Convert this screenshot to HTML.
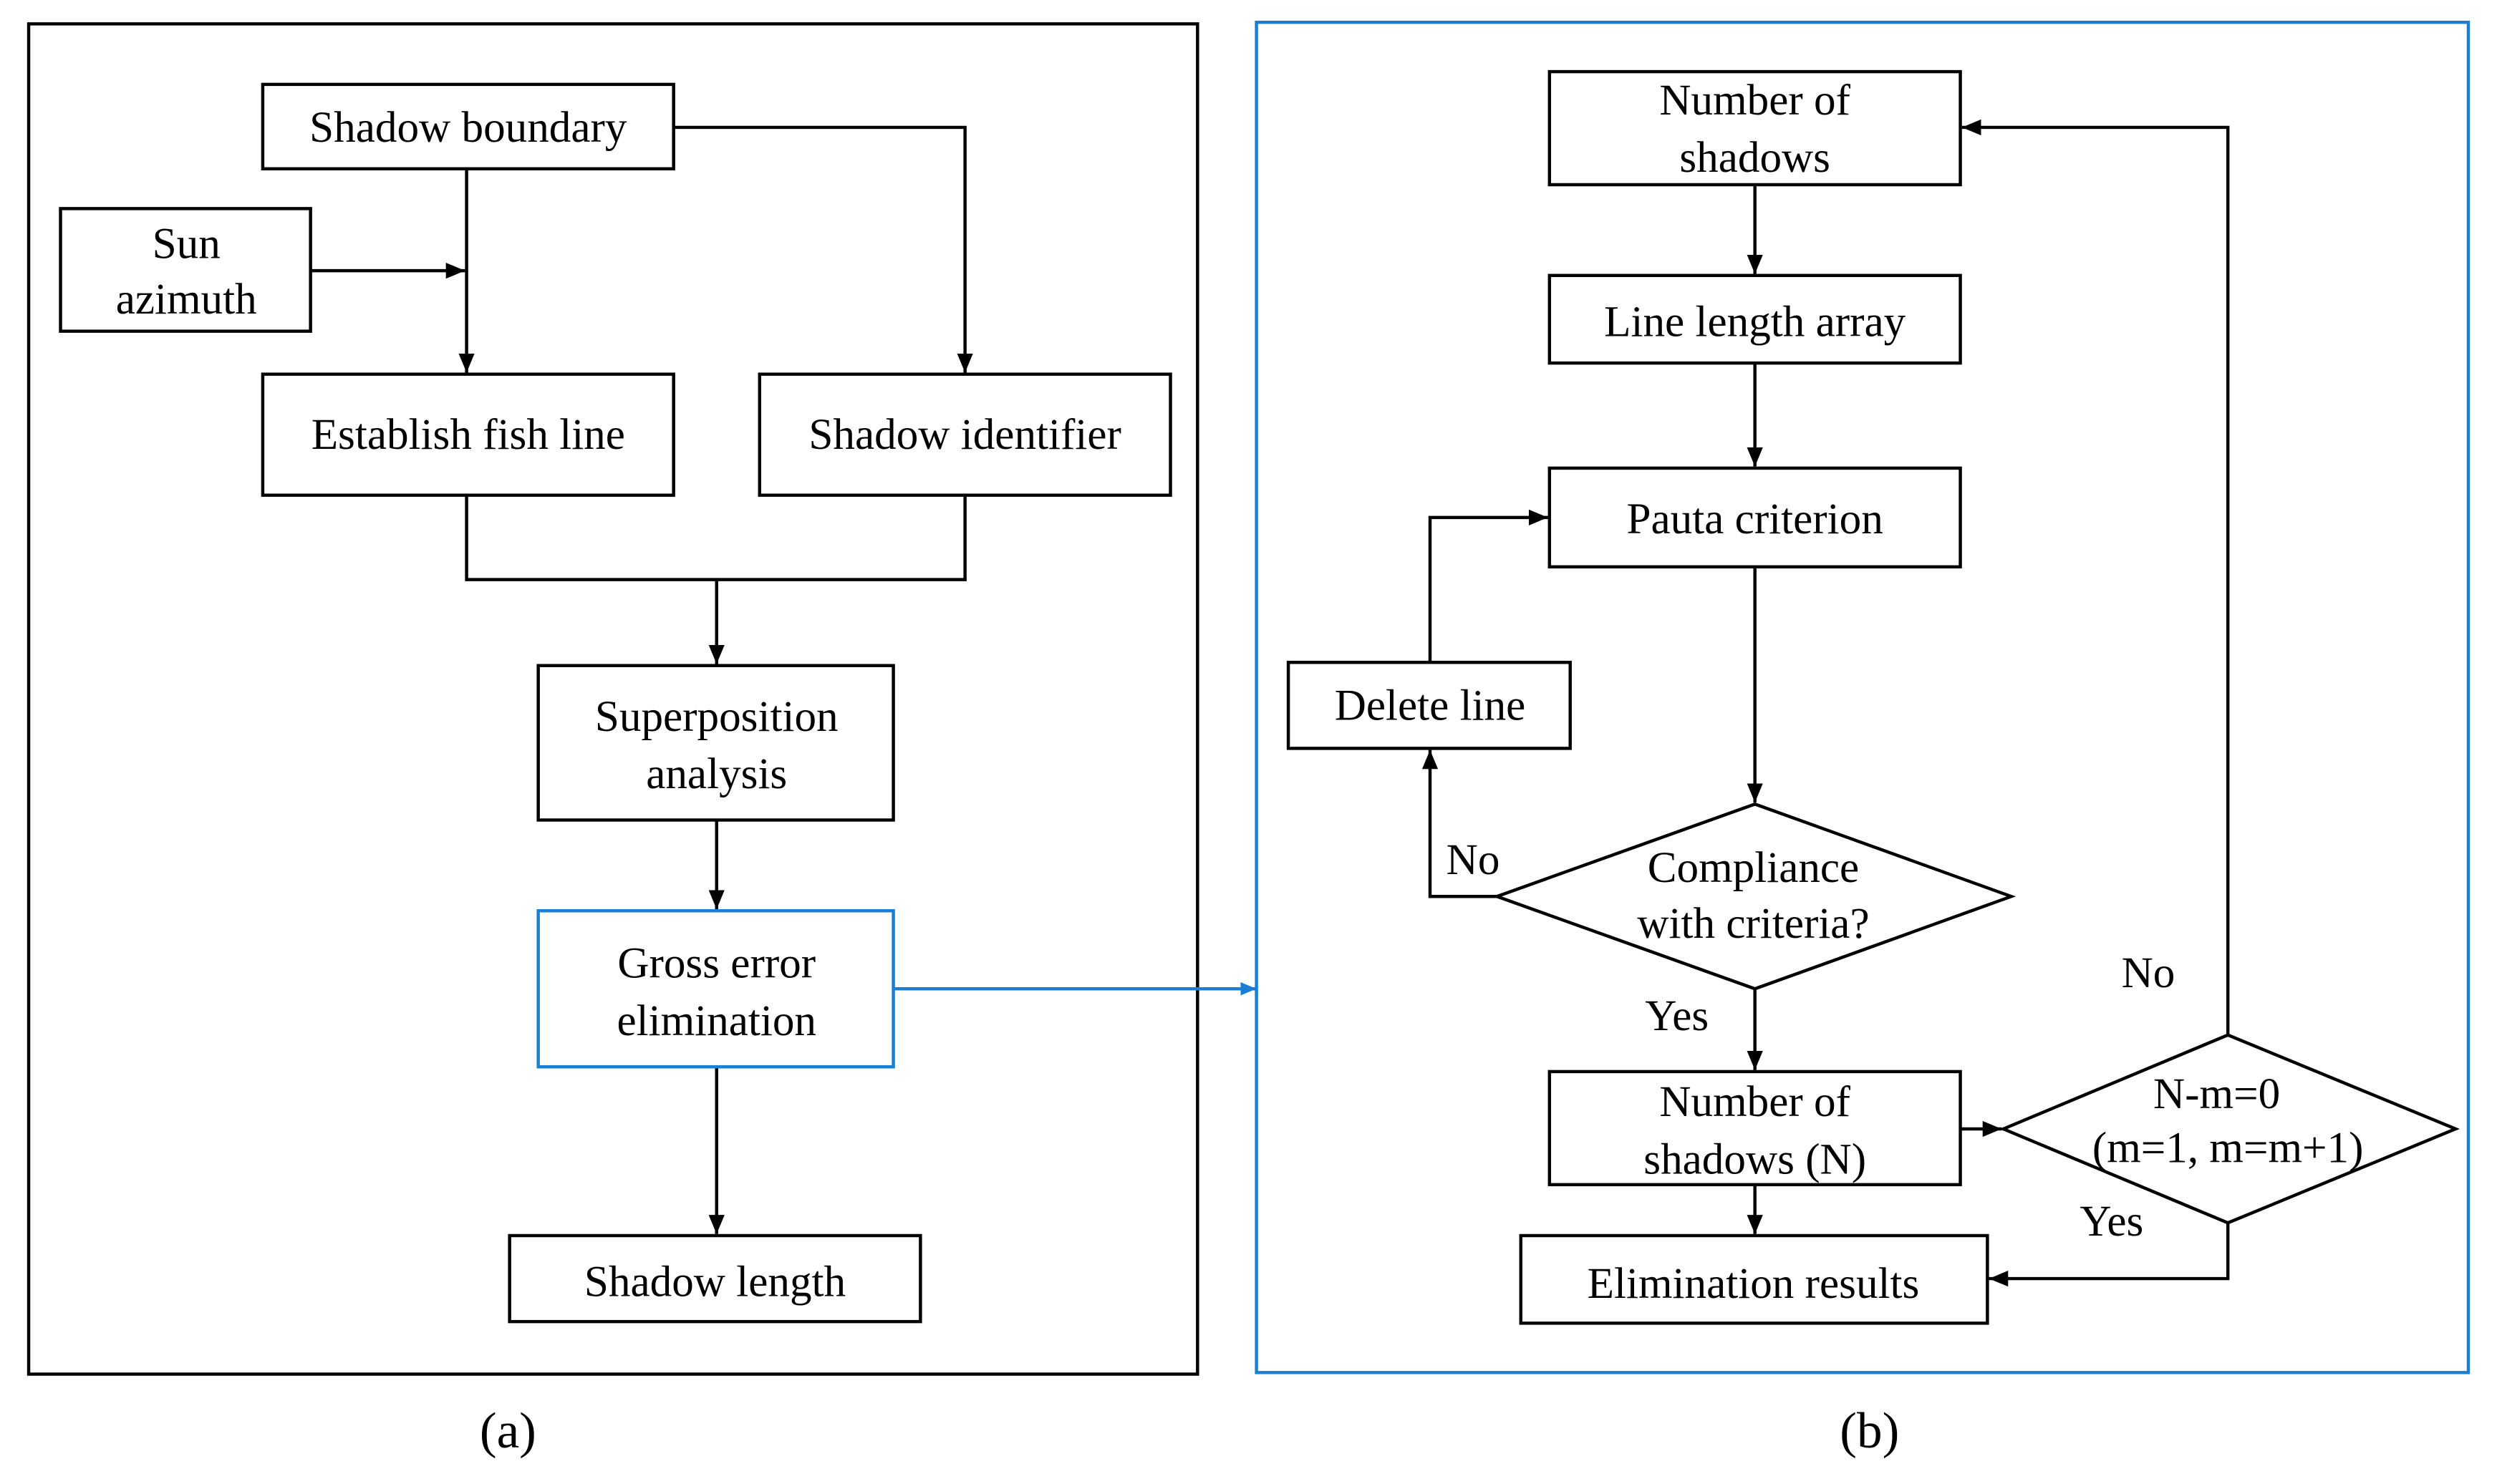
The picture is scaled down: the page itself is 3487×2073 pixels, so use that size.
<!DOCTYPE html>
<html><head><meta charset="utf-8"><style>
html,body{margin:0;padding:0;background:#fff;}
svg{display:block;}
text{font-family:"Liberation Serif","Times New Roman","DejaVu Serif",serif;font-size:27.5px;fill:#000;text-anchor:middle;}
</style></head><body>
<svg width="3487" height="2073" viewBox="0 0 1568 932" preserveAspectRatio="none" xmlns="http://www.w3.org/2000/svg" font-family="Liberation Serif, Times New Roman, serif">
<defs>
<marker id="a" viewBox="0 0 12 10" refX="12" refY="5" markerWidth="12" markerHeight="10" markerUnits="userSpaceOnUse" orient="auto"><path d="M0,0L12,5L0,10z" fill="#000"/></marker>
<marker id="ab" viewBox="0 0 12 10" refX="12" refY="5" markerWidth="10" markerHeight="9" markerUnits="userSpaceOnUse" orient="auto"><path d="M0,0L12,5L0,10z" fill="#1a7fd4"/></marker>
</defs>
<g fill="none" stroke="#000" stroke-width="2">
<rect x="18" y="15" width="734" height="848"/>
<rect x="165" y="53" width="258" height="53"/>
<rect x="38" y="131" width="157" height="77"/>
<rect x="165" y="235" width="258" height="76"/>
<rect x="477" y="235" width="258" height="76"/>
<rect x="338" y="418" width="223" height="97"/>
<rect x="320" y="776" width="258" height="54"/>
<rect x="973" y="45" width="258" height="71"/>
<rect x="973" y="173" width="258" height="55"/>
<rect x="973" y="294" width="258" height="62"/>
<rect x="809" y="416" width="177" height="54"/>
<rect x="973" y="673" width="258" height="71"/>
<rect x="955" y="776" width="293" height="55"/>
<path d="M1102,505L1263,563L1102,621L940,563Z"/>
<path d="M1258,709L1399,650L1542,709L1399,768Z"/>
<path d="M293,106V234" marker-end="url(#a)"/>
<path d="M195,170H292" marker-end="url(#a)"/>
<path d="M423,80H606V234" marker-end="url(#a)"/>
<path d="M293,311V364H606V311"/>
<path d="M450,364V417" marker-end="url(#a)"/>
<path d="M450,515V571" marker-end="url(#a)"/>
<path d="M450,670V775" marker-end="url(#a)"/>
<path d="M1102,116V172" marker-end="url(#a)"/>
<path d="M1102,228V293" marker-end="url(#a)"/>
<path d="M1102,356V504" marker-end="url(#a)"/>
<path d="M940,563H898V471" marker-end="url(#a)"/>
<path d="M898,416V325H972" marker-end="url(#a)"/>
<path d="M1102,621V672" marker-end="url(#a)"/>
<path d="M1102,744V775" marker-end="url(#a)"/>
<path d="M1231,709H1257" marker-end="url(#a)"/>
<path d="M1399,650V80H1232" marker-end="url(#a)"/>
<path d="M1399,768V803H1249" marker-end="url(#a)"/>
</g>
<g fill="none" stroke="#1a7fd4" stroke-width="2">
<rect x="789" y="14" width="761" height="848"/>
<rect x="338" y="572" width="223" height="98"/>
<path d="M561,621H789" marker-end="url(#ab)"/>
</g>
<text x="294" y="89">Shadow boundary</text>
<text x="117" y="162">Sun</text>
<text x="117" y="197">azimuth</text>
<text x="294" y="282">Establish fish line</text>
<text x="606" y="282">Shadow  identifier</text>
<text x="450" y="459">Superposition</text>
<text x="450" y="495">analysis</text>
<text x="450" y="614">Gross error</text>
<text x="450" y="650">elimination</text>
<text x="449" y="814">Shadow length</text>
<text x="1102" y="72">Number of</text>
<text x="1102" y="108">shadows</text>
<text x="1102" y="211">Line length array</text>
<text x="1102" y="335">Pauta criterion</text>
<text x="898" y="452">Delete line</text>
<text x="1101" y="554">Compliance</text>
<text x="1101" y="589">with criteria?</text>
<text x="925" y="549">No</text>
<text x="1053" y="647">Yes</text>
<text x="1102" y="701">Number of</text>
<text x="1102" y="737">shadows (N)</text>
<text x="1101" y="815">Elimination  results</text>
<text x="1349" y="620">No</text>
<text x="1392" y="696">N-m=0</text>
<text x="1399" y="730">(m=1, m=m+1)</text>
<text x="1326" y="776">Yes</text>
<text x="319" y="909" style="font-size:32px">(a)</text>
<text x="1174" y="909" style="font-size:32px">(b)</text>
</svg>
</body></html>
